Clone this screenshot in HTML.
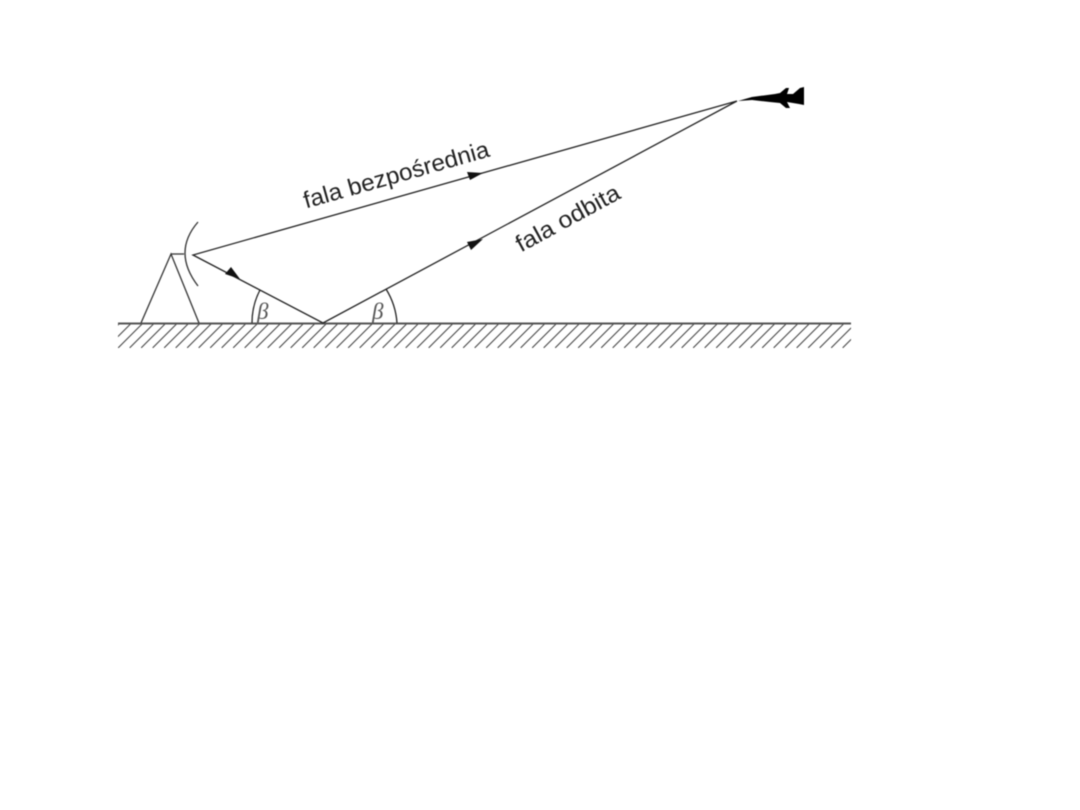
<!DOCTYPE html>
<html>
<head>
<meta charset="utf-8">
<style>
html,body{margin:0;padding:0;background:#fff;width:1080px;height:810px;overflow:hidden}
svg{display:block;filter:blur(0.6px)}
</style>
</head>
<body>
<svg width="1080" height="810" viewBox="0 0 1080 810" xmlns="http://www.w3.org/2000/svg">
<defs>
<pattern id="h" patternUnits="userSpaceOnUse" width="11.5" height="24" patternTransform="translate(118,324)">
<path d="M-23 24L1 0M-11.5 24L12.5 0M0 24L24 0" stroke="#444" stroke-width="1.100" fill="none"/>
</pattern>
</defs>
<rect width="1080" height="810" fill="#fff"/>
<!-- ground hatch -->
<rect x="118" y="324" width="733" height="24" fill="url(#h)"/>
<line x1="118" y1="323.500" x2="851" y2="323.500" stroke="#555" stroke-width="2"/>
<!-- antenna -->
<g stroke="#333" stroke-width="1.300" fill="none">
<path d="M141 323L171 254L199 323"/>
<path d="M171 254H184"/>
<path d="M198 222Q172 252 198 286"/>
</g>
<!-- rays -->
<g stroke="#222" stroke-width="1.300" fill="none">
<path d="M737 101L193 255L323 323L737 101"/>
<!-- angle arcs -->
<path d="M252 323A71 71 0 0 1 260 290"/>
<path d="M397 323A74 74 0 0 0 386 289"/>
</g>
<!-- arrowheads -->
<g fill="#111">
<path d="M483 173L467 172L470 180Z"/>
<path d="M240 279L225 274L231 267Z"/>
<path d="M483 239L467 242L471 250Z"/>
</g>
<!-- aircraft -->
<path d="M738 101L752 97L775 94L780 93L786 88L789 88L787 94L793 94L800 88L804 87L804 105L799 104L787 102L790 108L786 108L780 103L770 102L752 100Z" fill="#000"/>
<!-- labels -->
<g font-family="'Liberation Sans', sans-serif" font-size="23.500" fill="#222">
<text transform="translate(306,208.500) rotate(-15.800)" textLength="192" lengthAdjust="spacingAndGlyphs">fala bezpośrednia</text>
<text transform="translate(521,252.500) rotate(-28.500)" textLength="115" lengthAdjust="spacingAndGlyphs">fala odbita</text>
</g>
<g font-family="'Liberation Serif', serif" font-size="23" font-style="italic" fill="#555">
<text x="257" y="319">β</text>
<text x="372" y="319">β</text>
</g>
</svg>
</body>
</html>
